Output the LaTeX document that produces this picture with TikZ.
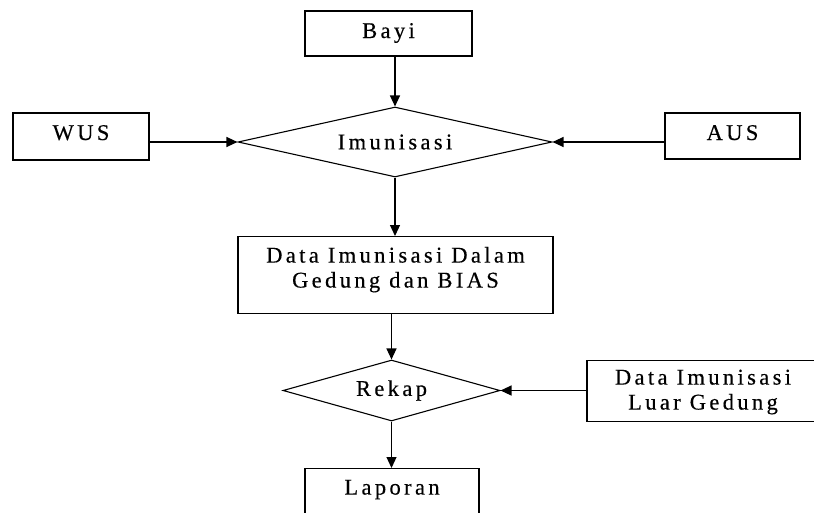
\documentclass[tikz,border=0pt]{standalone}
\usepackage{fontspec}
\setmainfont{Liberation Serif}[LetterSpace=15,FakeBold=0.4]
\usetikzlibrary{shapes.geometric,arrows.meta}
\begin{document}
\begin{tikzpicture}[x=1pt,y=-1pt,
  every node/.style={font=\fontsize{22.5}{25}\selectfont, inner sep=0pt, line width=1.1pt},
  box/.style={draw, rectangle, align=center},
  decision/.style={draw, diamond},
  flow/.style={line width=1.2pt, -{Triangle[length=11pt,width=10pt]}}]
  \useasboundingbox (0,0) rectangle (814,512);
  \fill[white] (0,0) rectangle (814,512);
  \clip (0,0) rectangle (814,512);

  % sources
  \node[box, minimum width=167pt, minimum height=45pt, text height=27pt, text depth=18pt] (bayi) at (388.5,33.5) {Bayi};
  \node[box, minimum width=136pt, minimum height=47pt, text height=27pt, text depth=20pt] (wus) at (81,136.5) {WUS};
  \node[box, minimum width=135pt, minimum height=46pt, text height=27pt, text depth=19pt] (aus) at (732.5,136) {AUS};

  % immunisation step
  \node[decision, aspect=4.55, minimum width=314pt, minimum height=70pt] (imun) at (395,142) {Imunisasi};

  % collected data
  \node[box, anchor=north, minimum width=315pt, text height=51pt, text depth=26pt] (data) at (395.5,236)
    {Data Imunisasi Dalam\\Gedung dan BIAS};

  % recap step and outside data
  \node[decision, aspect=3.56, minimum width=217pt, minimum height=61pt] (rekap) at (391.5,390.5) {Rekap};
  \node[box, anchor=north, minimum width=232pt, text height=49pt, text depth=12pt] (luar) at (703,360)
    {Data Imunisasi\\Luar Gedung};

  % report
  \node[box, anchor=north, minimum width=174pt, text height=26pt, text depth=36pt] (lap) at (392,468) {Laporan};

  % connectors
  \draw[flow] (imun.north |- bayi.south) -- (imun.north);
  \draw[flow] (wus.east |- imun.west) -- (imun.west);
  \draw[flow] (aus.west |- imun.east) -- (imun.east);
  \draw[flow] (imun.south) -- (imun.south |- data.north);
  \draw[flow] (rekap.north |- data.south) -- (rekap.north);
  \draw[flow] (luar.west |- rekap.east) -- (rekap.east);
  \draw[flow] (rekap.south) -- (rekap.south |- lap.north);
\end{tikzpicture}
\end{document}
